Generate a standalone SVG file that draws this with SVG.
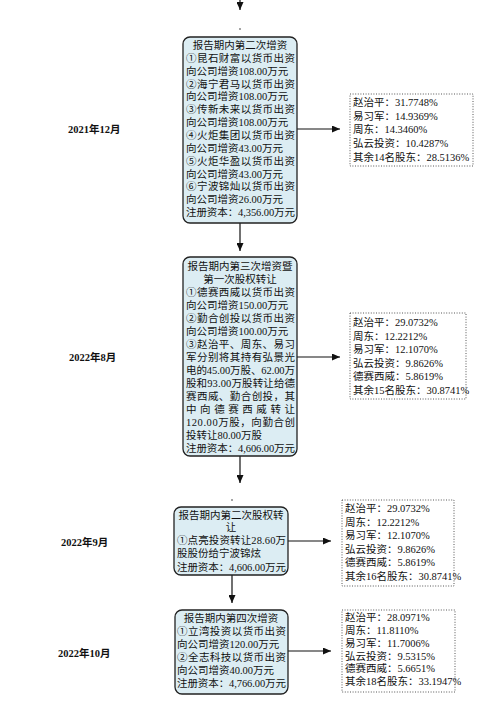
<svg xmlns="http://www.w3.org/2000/svg" width="500" height="712" viewBox="0 0 500 712">
<style>
.bg{fill:#ffffff}
.box{fill:#dcedf3;stroke:#222;stroke-width:1.3}
.sb{fill:none;stroke:#444;stroke-width:0.9;stroke-dasharray:1 1.6}
.t{font-family:"Liberation Serif","Noto Sans CJK SC",serif;font-size:10.5px;fill:#111}
.c{text-anchor:middle}
.d{font-weight:bold}
.ln{stroke:#111;stroke-width:1.2;fill:none}
</style>
<defs>
<marker id="ah" markerUnits="userSpaceOnUse" markerWidth="8" markerHeight="7" refX="8" refY="3.5" orient="auto">
<path d="M0,0 L8,3.5 L0,7 z" fill="#111"/>
</marker>
</defs>
<rect class="bg" x="0" y="0" width="500" height="712"/>

<g id="connectors">
<line class="ln" x1="240" y1="0" x2="240" y2="10" marker-end="url(#ah)"/>
<circle cx="240" cy="29" r="0.8" fill="#333"/>
<line class="ln" x1="240" y1="223" x2="240" y2="251" marker-end="url(#ah)"/>
<line class="ln" x1="240" y1="456" x2="240" y2="483" marker-end="url(#ah)"/>
<circle cx="232" cy="500" r="0.8" fill="#333"/>
<line class="ln" x1="232" y1="575" x2="232" y2="603" marker-end="url(#ah)"/>
<line class="ln" x1="297" y1="129" x2="340" y2="129" marker-end="url(#ah)"/>
<line class="ln" x1="297" y1="357" x2="340" y2="357" marker-end="url(#ah)"/>
<line class="ln" x1="288" y1="541" x2="331" y2="541" marker-end="url(#ah)"/>
<line class="ln" x1="288" y1="651" x2="331" y2="651" marker-end="url(#ah)"/>
</g>

<g id="dates" class="t d">
<text x="68" y="133">2021年12月</text>
<text x="69" y="361">2022年8月</text>
<text x="61" y="546">2022年9月</text>
<text x="58" y="657">2022年10月</text>
</g>

<g id="node1">
<rect class="box" x="183" y="37" width="114" height="186" rx="7"/>
<g class="t">
<text class="c" x="240" y="49">报告期内第二次增资</text>
<text x="186" y="61.9" textLength="109" lengthAdjust="spacing">①昆石财富以货币出资</text>
<text x="186" y="74.7">向公司增资108.00万元</text>
<text x="186" y="87.6" textLength="109" lengthAdjust="spacing">②海宁君马以货币出资</text>
<text x="186" y="100.4">向公司增资108.00万元</text>
<text x="186" y="113.3" textLength="109" lengthAdjust="spacing">③传新未来以货币出资</text>
<text x="186" y="126.1">向公司增资108.00万元</text>
<text x="186" y="139" textLength="109" lengthAdjust="spacing">④火炬集团以货币出资</text>
<text x="186" y="151.8">向公司增资43.00万元</text>
<text x="186" y="164.7" textLength="109" lengthAdjust="spacing">⑤火炬华盈以货币出资</text>
<text x="186" y="177.5">向公司增资43.00万元</text>
<text x="186" y="190.4" textLength="109" lengthAdjust="spacing">⑥宁波锦灿以货币出资</text>
<text x="186" y="203.2">向公司增资26.00万元</text>
<text x="186" y="216.1" textLength="109" lengthAdjust="spacing">注册资本：4,356.00万元</text>
</g>
</g>

<g id="holders1">
<rect class="sb" x="350" y="94" width="123" height="72"/>
<g class="t">
<text x="353" y="106">赵治平：31.7748%</text>
<text x="353" y="120">易习军：14.9369%</text>
<text x="353" y="133">周东：14.3460%</text>
<text x="353" y="147">弘云投资：10.4287%</text>
<text x="353" y="161">其余14名股东：28.5136%</text>
</g>
</g>

<g id="node2">
<rect class="box" x="183" y="257" width="114" height="199" rx="7"/>
<g class="t">
<text class="c" x="240" y="270">报告期内第三次增资暨</text>
<text class="c" x="240" y="283">第一次股权转让</text>
<text x="186" y="296" textLength="109" lengthAdjust="spacing">①德赛西威以货币出资</text>
<text x="186" y="309">向公司增资150.00万元</text>
<text x="186" y="322" textLength="109" lengthAdjust="spacing">②勤合创投以货币出资</text>
<text x="186" y="335">向公司增资100.00万元</text>
<text x="186" y="348" textLength="109" lengthAdjust="spacing">③赵治平、周东、易习</text>
<text x="186" y="361" textLength="109" lengthAdjust="spacing">军分别将其持有弘景光</text>
<text x="186" y="374" textLength="109" lengthAdjust="spacing">电的45.00万股、62.00万</text>
<text x="186" y="387" textLength="109" lengthAdjust="spacing">股和93.00万股转让给德</text>
<text x="186" y="400" textLength="109" lengthAdjust="spacing">赛西威、勤合创投，其</text>
<text x="186" y="413" textLength="109" lengthAdjust="spacing">中向德赛西威转让</text>
<text x="186" y="426" textLength="109" lengthAdjust="spacing">120.00万股，向勤合创</text>
<text x="186" y="439">投转让80.00万股</text>
<text x="186" y="452" textLength="109" lengthAdjust="spacing">注册资本：4,606.00万元</text>
</g>
</g>

<g id="holders2">
<rect class="sb" x="350" y="313" width="116" height="86"/>
<g class="t">
<text x="353" y="326">赵治平：29.0732%</text>
<text x="353" y="340">周东：12.2212%</text>
<text x="353" y="353">易习军：12.1070%</text>
<text x="353" y="367">弘云投资：9.8626%</text>
<text x="353" y="380">德赛西威：5.8619%</text>
<text x="353" y="394">其余15名股东：30.8741%</text>
</g>
</g>

<g id="node3">
<rect class="box" x="174" y="507" width="114" height="68" rx="7"/>
<g class="t">
<text class="c" x="231" y="519">报告期内第二次股权转</text>
<text class="c" x="231" y="531">让</text>
<text x="177" y="544" textLength="109" lengthAdjust="spacing">①点亮投资转让28.60万</text>
<text x="177" y="557">股股份给宁波锦炫</text>
<text x="177" y="571" textLength="109" lengthAdjust="spacing">注册资本：4,606.00万元</text>
</g>
</g>

<g id="holders3">
<rect class="sb" x="342" y="500" width="112" height="86"/>
<g class="t">
<text x="345" y="512">赵治平：29.0732%</text>
<text x="345" y="526">周东：12.2212%</text>
<text x="345" y="539">易习军：12.1070%</text>
<text x="345" y="553">弘云投资：9.8626%</text>
<text x="345" y="566">德赛西威：5.8619%</text>
<text x="345" y="580">其余16名股东：30.8741%</text>
</g>
</g>

<g id="node4">
<rect class="box" x="175" y="610" width="113" height="84" rx="7"/>
<g class="t">
<text class="c" x="231" y="622">报告期内第四次增资</text>
<text x="177" y="635" textLength="109" lengthAdjust="spacing">①立湾投资以货币出资</text>
<text x="177" y="648">向公司增资120.00万元</text>
<text x="177" y="661" textLength="109" lengthAdjust="spacing">②全志科技以货币出资</text>
<text x="177" y="674">向公司增资40.00万元</text>
<text x="177" y="687" textLength="109" lengthAdjust="spacing">注册资本：4,766.00万元</text>
</g>
</g>

<g id="holders4">
<rect class="sb" x="342" y="610" width="113" height="82"/>
<g class="t">
<text x="345" y="621">赵治平：28.0971%</text>
<text x="345" y="634">周东：11.8110%</text>
<text x="345" y="647">易习军：11.7006%</text>
<text x="345" y="660">弘云投资：9.5315%</text>
<text x="345" y="672">德赛西威：5.6651%</text>
<text x="345" y="685">其余18名股东：33.1947%</text>
</g>
</g>
</svg>
